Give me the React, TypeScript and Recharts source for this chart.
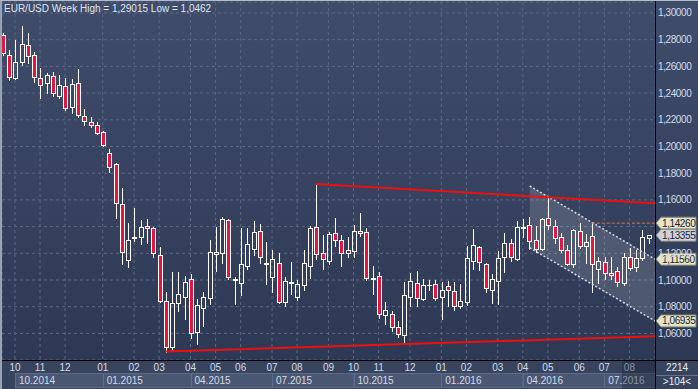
import React from 'react';
import { ComposedChart, Bar, XAxis, YAxis, CartesianGrid, ReferenceLine, ReferenceArea, ReferenceDot } from 'recharts';

// weekly EUR/USD candles
const opens = [
  1.2835, 1.2685, 1.2513, 1.2633, 1.2760, 1.2685, 1.2513, 1.2476, 1.2528, 1.2378,
  1.2453, 1.2296, 1.2476, 1.2228, 1.2184, 1.2161, 1.2109, 1.1951, 1.1869, 1.1569,
  1.1150, 1.1315, 1.1322, 1.1404, 1.1389, 1.1187, 1.0843, 1.0498, 1.0828, 1.0872,
  1.1007, 1.0610, 1.0790, 1.0865, 1.1195, 1.1202, 1.1449, 1.1000, 1.0977, 1.1105,
  1.1232, 1.1367, 1.1120, 1.1022, 1.1127, 1.0835, 1.0980, 1.0872, 1.0962, 1.1105,
  1.1397, 1.1202, 1.1142, 1.1352, 1.1300, 1.1202, 1.1217, 1.1367, 1.1360, 1.1010,
  1.1030, 1.0738, 1.0745, 1.0648, 1.0588, 1.0872, 1.0977, 1.0858, 1.0960, 1.0970,
  1.0872, 1.0955, 1.0917, 1.0805, 1.0835, 1.1142, 1.1247, 1.1120, 1.0925, 1.0992,
  1.1172, 1.1277, 1.1157, 1.1390, 1.1412, 1.1300, 1.1232, 1.1464, 1.1404, 1.1322,
  1.1225, 1.1120, 1.1367, 1.1255, 1.1330, 1.1082, 1.1135, 1.1052, 1.1067, 1.0977,
  1.1172, 1.1097, 1.1165, 1.1318,
];
const highs = [
  1.2850, 1.2723, 1.2798, 1.2902, 1.2850, 1.2708, 1.2588, 1.2551, 1.2558, 1.2536,
  1.2513, 1.2506, 1.2581, 1.2281, 1.2221, 1.2184, 1.2116, 1.1981, 1.1876, 1.1689,
  1.1427, 1.1539, 1.1449, 1.1457, 1.1397, 1.1247, 1.0910, 1.1060, 1.1060, 1.1030,
  1.1045, 1.0858, 1.0910, 1.1300, 1.1397, 1.1472, 1.1457, 1.1022, 1.1389, 1.1389,
  1.1442, 1.1419, 1.1285, 1.1225, 1.1202, 1.1022, 1.1135, 1.1000, 1.1225, 1.1404,
  1.1719, 1.1337, 1.1360, 1.1464, 1.1337, 1.1322, 1.1412, 1.1502, 1.1389, 1.1105,
  1.1060, 1.0835, 1.0768, 1.0693, 1.0985, 1.1052, 1.1067, 1.1007, 1.1000, 1.1000,
  1.0985, 1.0992, 1.0985, 1.0970, 1.1255, 1.1382, 1.1252, 1.1127, 1.1045, 1.1217,
  1.1352, 1.1307, 1.1442, 1.1457, 1.1472, 1.1404, 1.1464, 1.1614, 1.1449, 1.1352,
  1.1262, 1.1382, 1.1427, 1.1345, 1.1426, 1.1172, 1.1172, 1.1172, 1.1097, 1.1202,
  1.1240, 1.1225, 1.1375, 1.1340,
];
const lows = [
  1.2685, 1.2498, 1.2506, 1.2610, 1.2625, 1.2483, 1.2363, 1.2401, 1.2378, 1.2363,
  1.2273, 1.2251, 1.2221, 1.2161, 1.2146, 1.2094, 1.2004, 1.1809, 1.1464, 1.1120,
  1.1097, 1.1292, 1.1270, 1.1277, 1.1172, 1.0835, 1.0462, 1.0470, 1.0768, 1.0708,
  1.0566, 1.0521, 1.0655, 1.0820, 1.1067, 1.1127, 1.1007, 1.0820, 1.0887, 1.1082,
  1.1187, 1.1127, 1.0970, 1.0910, 1.0830, 1.0805, 1.0895, 1.0850, 1.0925, 1.1015,
  1.1157, 1.1082, 1.1120, 1.1255, 1.1105, 1.1172, 1.1172, 1.1330, 1.1000, 1.0895,
  1.0715, 1.0670, 1.0618, 1.0573, 1.0524, 1.0805, 1.0805, 1.0850, 1.0925, 1.0850,
  1.0708, 1.0805, 1.0775, 1.0790, 1.0813, 1.1082, 1.1075, 1.0910, 1.0828, 1.0820,
  1.1060, 1.1142, 1.1150, 1.1322, 1.1232, 1.1210, 1.1225, 1.1382, 1.1277, 1.1210,
  1.1112, 1.1097, 1.1240, 1.1127, 1.0910, 1.0977, 1.1007, 1.1007, 1.0955, 1.0962,
  1.1075, 1.1067, 1.1150, 1.1277,
];
const closes = [
  1.2700, 1.2521, 1.2633, 1.2768, 1.2678, 1.2521, 1.2461, 1.2536, 1.2401, 1.2461,
  1.2288, 1.2468, 1.2236, 1.2191, 1.2161, 1.2101, 1.2011, 1.1847, 1.1577, 1.1210,
  1.1300, 1.1322, 1.1397, 1.1389, 1.1202, 1.0843, 1.0498, 1.0828, 1.0895, 1.0985,
  1.0603, 1.0813, 1.0872, 1.1210, 1.1210, 1.1457, 1.1022, 1.1007, 1.1120, 1.1270,
  1.1360, 1.1172, 1.1127, 1.1157, 1.0835, 1.0992, 1.0985, 1.0970, 1.1127, 1.1389,
  1.1195, 1.1157, 1.1345, 1.1300, 1.1202, 1.1225, 1.1367, 1.1352, 1.1015, 1.1015,
  1.0745, 1.0775, 1.0648, 1.0596, 1.0887, 1.0992, 1.0865, 1.0962, 1.0965, 1.0865,
  1.0925, 1.0925, 1.0805, 1.0843, 1.1165, 1.1262, 1.1135, 1.0940, 1.1007, 1.1165,
  1.1277, 1.1172, 1.1397, 1.1397, 1.1292, 1.1232, 1.1457, 1.1412, 1.1315, 1.1225,
  1.1120, 1.1375, 1.1255, 1.1285, 1.1120, 1.1142, 1.1052, 1.1037, 1.0985, 1.1172,
  1.1090, 1.1165, 1.1322, 1.13355,
];

const monthTicks = [2, 6, 10, 16, 21, 25, 30, 34, 38, 43, 47, 52, 56, 60, 65, 70, 74, 79, 83, 87, 92, 96, 100];
const monthLabels = ['10', '11', '12', '01', '02', '03', '04', '05', '06', '07', '08', '09', '10', '11', '12', '01', '02', '03', '04', '05', '06', '07', '08'];
const quarterTicks = [2, 16, 30, 43, 56, 70, 83, 96];
const quarterLabels = ['10.2014', '01.2015', '04.2015', '07.2015', '10.2015', '01.2016', '04.2016', '07.2016'];
const yTicks = [1.06, 1.08, 1.1, 1.12, 1.14, 1.16, 1.18, 1.2, 1.22, 1.24, 1.26, 1.28, 1.3];
// fully covered by the price tags in the original
const hiddenTickLabels = [1.14];

const X_MIN = -0.064;
const X_MAX = 104.08;
const Y_MIN = 1.0401;
const Y_MAX = 1.3082;

// drawn objects (week index, price)
const resistanceLine = [{ x: 50, y: 1.1719 }, { x: X_MAX, y: 1.1574 }];
const supportLine = [{ x: 26, y: 1.0465 }, { x: X_MAX, y: 1.0578 }];
const channelUpper = [{ x: 84.1, y: 1.1704 }, { x: X_MAX, y: 1.1156 }];
const channelLower = [{ x: 84.1, y: 1.12415 }, { x: X_MAX, y: 1.06935 }];
const levelLine = [{ x: 94, y: 1.1426 }, { x: X_MAX, y: 1.1426 }];
const tagValues = [1.1426, 1.13355, 1.1156, 1.06935];
const tagColors = ['#e4e4c8', '#cdd2dc', '#e4e4c8', '#e4e4c8'];

const data = opens.map((o, i) => ({ i, o, h: highs[i], l: lows[i], c: closes[i] }));

const W = 698;
const H = 389;
const AXIS_W = 43;
const PLOT_LEFT = 2;
const pxPerWeek = (W - PLOT_LEFT - AXIS_W) / (X_MAX - X_MIN);
const font = '"Liberation Sans", Arial, sans-serif';
const fmt = (v: number) => v.toFixed(5).replace('.', ',');

function Candle(props: any) {
  const { x, y, width, height, payload } = props;
  if (x == null || y == null) return null;
  const { o, h, l, c } = payload;
  const top0 = Math.min(y, y + height);
  const hh = Math.abs(height);
  const k = hh / (h - l || 1e-9);
  const py = (v: number) => Math.round(top0 + (h - v) * k) + 0.5;
  const cx = Math.round(x + width / 2) + 0.5;
  const bull = c >= o;
  const bTop = py(Math.max(o, c));
  const bBot = py(Math.min(o, c));
  const yh = py(h);
  const yl = py(l);
  return (
    <g>
      {bTop > yh && <line x1={cx} x2={cx} y1={yh - 0.5} y2={bTop} stroke="#fff" strokeWidth={1} />}
      {yl > bBot && <line x1={cx} x2={cx} y1={bBot} y2={yl + 0.5} stroke="#fff" strokeWidth={1} />}
      {bBot - bTop < 1 ? (
        <line x1={cx - 2.5} x2={cx + 2.5} y1={bTop} y2={bTop} stroke="#fff" strokeWidth={1} />
      ) : (
        <rect x={cx - 2} y={bTop} width={4} height={bBot - bTop} fill={bull ? 'none' : '#e3173e'} stroke="#fff" strokeWidth={1} />
      )}
    </g>
  );
}

function YTick(props: any) {
  const { x, y, payload } = props;
  if (hiddenTickLabels.includes(payload.value)) return null;
  return (
    <text x={x} y={y} dy={3.5} fill="#d3dbea" fontSize={10} fontFamily={font} letterSpacing={-0.4}>
      {fmt(payload.value)}
    </text>
  );
}

function XTick(props: any) {
  const { x, payload } = props;
  const v = payload.value;
  const mi = monthTicks.indexOf(v);
  const qi = quarterTicks.indexOf(v);
  const next = qi >= 0 && qi < quarterTicks.length - 1 ? quarterTicks[qi + 1] : X_MAX;
  const qw = (next - v) * pxPerWeek;
  return (
    <g>
      {qi >= 0 && (
        <rect x={Math.round(x) + 0.5} y={373.5} width={qw} height={14} fill="#4a5773" stroke="#5f6c89" strokeWidth={1} />
      )}
      {qi >= 0 && (
        <text x={x + 4} y={384} fill="#d3dbea" fontSize={10} fontFamily={font}>
          {quarterLabels[qi]}
        </text>
      )}
      <text x={x} y={371} textAnchor="middle" fill="#d3dbea" fontSize={10} fontFamily={font}>
        {monthLabels[mi]}
      </text>
    </g>
  );
}

function Channel(props: any) {
  const { x, y, width, height } = props;
  const k = height / (channelUpper[0].y - channelLower[1].y);
  const pts = [
    [x, y],
    [x + width, y + (channelUpper[0].y - channelUpper[1].y) * k],
    [x + width, y + height],
    [x, y + (channelUpper[0].y - channelLower[0].y) * k],
  ];
  return <polygon points={pts.map((p) => p.join(',')).join(' ')} fill="#ffffff" fillOpacity={0.14} />;
}

function PriceTag({ cx, cy, value, color }: any) {
  const x0 = cx + 1;
  const pts = [
    [x0, cy],
    [x0 + 5, cy - 6],
    [x0 + 40, cy - 6],
    [x0 + 40, cy + 6],
    [x0 + 5, cy + 6],
  ];
  return (
    <g>
      <polygon points={pts.map((p) => p.join(',')).join(' ')} fill={color} stroke="#7f8270" strokeWidth={1} />
      <text x={x0 + 6} y={cy + 3.5} fill="#1d2230" fontSize={10} fontFamily={font} letterSpacing={-0.4}>
        {fmt(value)}
      </text>
    </g>
  );
}

export default function App() {
  return (
    <div
      style={{
        position: 'absolute',
        left: 0,
        top: 0,
        width: W,
        height: H,
        background: 'linear-gradient(#404d6a, #2c3753)',
        overflow: 'hidden',
      }}
    >
      {/* bottom axis panel */}
      <div style={{ position: 'absolute', left: 0, top: 361, width: W, height: 28, background: '#38445e' }} />

      <ComposedChart
        width={W}
        height={H}
        data={data}
        margin={{ top: 2, right: 0, bottom: 0, left: PLOT_LEFT }}
        style={{ position: 'absolute', left: 0, top: 0 }}
      >
        <CartesianGrid stroke="#5b6884" strokeDasharray="3 3" />
        <XAxis
          type="number"
          dataKey="i"
          domain={[X_MIN, X_MAX]}
          ticks={monthTicks}
          interval={0}
          allowDataOverflow
          axisLine={false}
          tickLine={false}
          height={29}
          tick={<XTick />}
        />
        <YAxis
          type="number"
          orientation="right"
          domain={[Y_MIN, Y_MAX]}
          ticks={yTicks}
          interval={0}
          allowDataOverflow
          axisLine={false}
          tickLine={false}
          tickSize={0}
          tickMargin={3}
          width={AXIS_W}
          tick={<YTick />}
        />
        <ReferenceArea
          x1={channelLower[0].x}
          x2={X_MAX}
          y1={channelLower[1].y}
          y2={channelUpper[0].y}
          ifOverflow="visible"
          shape={<Channel />}
        />
        <Bar dataKey={(d: any) => [d.l, d.h]} barSize={5} isAnimationActive={false} shape={<Candle />} />
        <ReferenceLine segment={channelUpper} stroke="#d6dae2" strokeWidth={1.5} strokeDasharray="2 2" ifOverflow="visible" />
        <ReferenceLine segment={channelLower} stroke="#d6dae2" strokeWidth={1.5} strokeDasharray="2 2" ifOverflow="visible" />
        <ReferenceLine segment={resistanceLine} stroke="#ee1010" strokeWidth={2} ifOverflow="visible" />
        <ReferenceLine segment={supportLine} stroke="#ee1010" strokeWidth={2} ifOverflow="visible" />
        <ReferenceLine segment={levelLine} stroke="#e07a48" strokeWidth={1} strokeDasharray="3 2" ifOverflow="visible" />
        {tagValues.map((v, k) => (
          <ReferenceDot
            key={k}
            x={X_MAX}
            y={v}
            r={0}
            ifOverflow="visible"
            shape={(p: any) => <PriceTag cx={p.cx} cy={p.cy} value={v} color={tagColors[k]} />}
          />
        ))}
      </ComposedChart>

      {/* frame and separators */}
      <div style={{ position: 'absolute', left: 0, top: 360, width: W, height: 1, background: '#000' }} />
      <div style={{ position: 'absolute', left: 655, top: 0, width: 1, height: H, background: '#000' }} />
      <div style={{ position: 'absolute', left: 0, top: 0, width: 2, height: H, background: '#9aa3b6' }} />
      <div style={{ position: 'absolute', left: 0, top: 0, width: W, height: 1, background: '#b4bccb' }} />
      <div style={{ position: 'absolute', left: 622, top: 361, width: 33, height: 28, background: 'rgba(24,32,52,0.4)' }} />
      <div style={{ position: 'absolute', left: 656, top: 375, width: 42, height: 1, background: '#66728c' }} />

      <div
        style={{
          position: 'absolute',
          left: 4,
          top: 3,
          fontFamily: font,
          fontSize: 10,
          color: '#dfe6f2',
          whiteSpace: 'nowrap',
          lineHeight: '11px',
        }}
      >
        EUR/USD Week High = 1,29015 Low = 1,0462
      </div>
      <div style={{ position: 'absolute', left: 656, top: 362, width: 42, textAlign: 'center', fontFamily: font, fontSize: 10, color: '#e6ecf6', lineHeight: '12px' }}>
        2214
      </div>
      <div style={{ position: 'absolute', left: 656, top: 376, width: 42, textAlign: 'center', fontFamily: font, fontSize: 10, color: '#e6ecf6', lineHeight: '12px' }}>
        &gt;104&lt;
      </div>
    </div>
  );
}
